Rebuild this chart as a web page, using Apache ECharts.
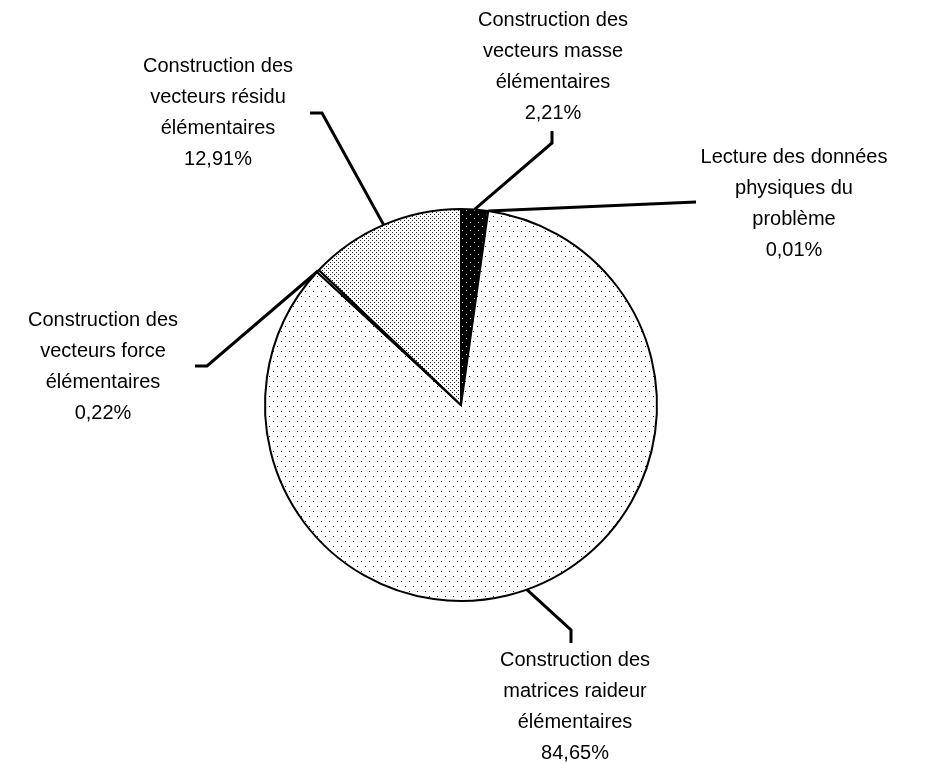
<!DOCTYPE html>
<html>
<head>
<meta charset="utf-8">
<script src="https://cdn.jsdelivr.net/npm/echarts@6/dist/echarts.min.js"></script>
<style>
  html, body { margin: 0; padding: 0; background: #ffffff; }
  #chart { width: 928px; height: 764px; }
</style>
</head>
<body>
<div id="chart"></div>
<script>
// Share of computing time per step (percent), clockwise from 12 o'clock
const categories = [
  'Construction des\nvecteurs masse\nélémentaires',
  'Lecture des données\nphysiques du\nproblème',
  'Construction des\nmatrices raideur\nélémentaires',
  'Construction des\nvecteurs force\nélémentaires',
  'Construction des\nvecteurs résidu\nélémentaires'
];
const shares = [2.21, 0.01, 84.65, 0.22, 12.91];

// Fill pattern names, one per slice
const fills = ['darkDots', 'sparseDots', 'sparseDots', 'sparseDots', 'denseDots'];

// Label anchors and leader-line bends (pixels in the chart canvas)
const labelPlaces = [
  { x: 553, y: 67,  bend: [552, 143], end: [552, 131] },
  { x: 794, y: 204, bend: null,       end: [696, 202] },
  { x: 575, y: 707, bend: [571, 630], end: [571, 643] },
  { x: 103, y: 367, bend: [207, 366], end: [195, 366] },
  { x: 218, y: 113, bend: [322, 113], end: [310, 113] }
];

function makePattern(kind) {
  const c = document.createElement('canvas');
  const ctx = c.getContext('2d');
  if (kind === 'sparseDots') {
    c.width = 8; c.height = 10;
    ctx.fillStyle = '#ffffff'; ctx.fillRect(0, 0, 8, 10);
    ctx.fillStyle = '#000000';
    ctx.fillRect(1, 1, 1, 1);
    ctx.fillRect(5, 6, 1, 1);
  } else if (kind === 'denseDots') {
    c.width = 4; c.height = 4;
    ctx.fillStyle = '#ffffff'; ctx.fillRect(0, 0, 4, 4);
    ctx.fillStyle = '#222222';
    ctx.fillRect(0, 0, 1, 1);
    ctx.fillRect(2, 2, 1, 1);
  } else {
    c.width = 8; c.height = 8;
    ctx.fillStyle = '#000000'; ctx.fillRect(0, 0, 8, 8);
    ctx.fillStyle = '#ffffff';
    ctx.fillRect(2, 2, 1, 1);
    ctx.fillRect(6, 6, 1, 1);
  }
  return { image: c, repeat: 'repeat' };
}

const fmt = v => v.toFixed(2).replace('.', ',') + '%';

const chart = echarts.init(document.getElementById('chart'), null, { renderer: 'canvas' });
chart.setOption({
  animation: false,
  backgroundColor: '#ffffff',
  series: [{
    type: 'pie',
    center: [461, 405],
    radius: [0, 196],
    startAngle: 90,
    clockwise: true,
    avoidLabelOverlap: false,
    minAngle: 0,
    silent: true,
    itemStyle: { borderColor: '#000000', borderWidth: 2 },
    label: {
      show: true,
      position: 'outside',
      color: '#000000',
      fontFamily: 'Liberation Sans, Arial, sans-serif',
      fontSize: 20,
      lineHeight: 31,
      align: 'center',
      formatter: p => p.name + '\n' + fmt(p.value)
    },
    labelLine: {
      show: true,
      smooth: false,
      lineStyle: { color: '#000000', width: 3 }
    },
    labelLayout: function (params) {
      const place = labelPlaces[params.dataIndex];
      const start = params.labelLinePoints ? params.labelLinePoints[0] : place.end;
      const pts = place.bend ? [start, place.bend, place.end] : [start, place.end];
      return {
        x: place.x,
        y: place.y,
        align: 'center',
        verticalAlign: 'middle',
        labelLinePoints: pts
      };
    },
    data: categories.map((name, i) => ({
      name: name,
      value: shares[i],
      itemStyle: { color: makePattern(fills[i]) }
    }))
  }]
});
</script>
</body>
</html>
